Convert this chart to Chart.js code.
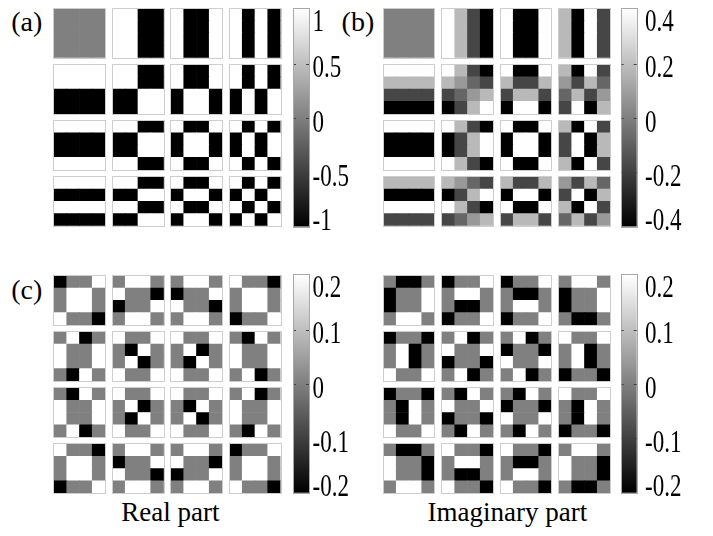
<!DOCTYPE html>
<html>
<head>
<meta charset="utf-8">
<script src="https://cdn.jsdelivr.net/npm/chart.js@4.4.1/dist/chart.umd.min.js"></script>
<style>
html,body{margin:0;padding:0;background:#fff;width:713px;height:536px;overflow:hidden;position:relative;}
canvas{position:absolute;display:block;}
.lbl{position:absolute;font-family:"Liberation Serif","Times New Roman",serif;color:#000;white-space:nowrap;}
</style>
</head>
<body>
<script>
// ================= DATA =================
const panelLabels = ['(a)', '(b)', '(c)'];
const bottomTitles = ['Real part', 'Imaginary part'];

const ticksA = [-1, -0.5, 0, 0.5, 1];
const ticksB = [-0.4, -0.2, 0, 0.2, 0.4];
const ticksC = [-0.2, -0.1, 0, 0.1, 0.2];
const ticksD = [-0.2, -0.1, 0, 0.1, 0.2];

// each panel: 16 basis images (4x4 grid, row-major); each image: 16 cell values (4x4, row-major)
const panelA = [
  [0,0,0,0, 0,0,0,0, 0,0,0,0, 0,0,0,0],
  [1,1,-1,-1, 1,1,-1,-1, 1,1,-1,-1, 1,1,-1,-1],
  [1,-1,-1,1, 1,-1,-1,1, 1,-1,-1,1, 1,-1,-1,1],
  [1,-1,1,-1, 1,-1,1,-1, 1,-1,1,-1, 1,-1,1,-1],
  [1,1,1,1, 1,1,1,1, -1,-1,-1,-1, -1,-1,-1,-1],
  [1,1,-1,-1, 1,1,-1,-1, -1,-1,1,1, -1,-1,1,1],
  [1,-1,-1,1, 1,-1,-1,1, -1,1,1,-1, -1,1,1,-1],
  [1,-1,1,-1, 1,-1,1,-1, -1,1,-1,1, -1,1,-1,1],
  [1,1,1,1, -1,-1,-1,-1, -1,-1,-1,-1, 1,1,1,1],
  [1,1,-1,-1, -1,-1,1,1, -1,-1,1,1, 1,1,-1,-1],
  [1,-1,-1,1, -1,1,1,-1, -1,1,1,-1, 1,-1,-1,1],
  [1,-1,1,-1, -1,1,-1,1, -1,1,-1,1, 1,-1,1,-1],
  [1,1,1,1, -1,-1,-1,-1, 1,1,1,1, -1,-1,-1,-1],
  [1,1,-1,-1, -1,-1,1,1, 1,1,-1,-1, -1,-1,1,1],
  [1,-1,-1,1, -1,1,1,-1, 1,-1,-1,1, -1,1,1,-1],
  [1,-1,1,-1, -1,1,-1,1, 1,-1,1,-1, -1,1,-1,1]
];

const panelB = [
  [0,0,0,0, 0,0,0,0, 0,0,0,0, 0,0,0,0],
  [0.4,0.18,-0.18,-0.4, 0.4,0.18,-0.18,-0.4, 0.4,0.18,-0.18,-0.4, 0.4,0.18,-0.18,-0.4],
  [0.4,-0.4,-0.4,0.4, 0.4,-0.4,-0.4,0.4, 0.4,-0.4,-0.4,0.4, 0.4,-0.4,-0.4,0.4],
  [0.18,-0.4,0.4,-0.18, 0.18,-0.4,0.4,-0.18, 0.18,-0.4,0.4,-0.18, 0.18,-0.4,0.4,-0.18],
  [0.4,0.4,0.4,0.4, 0.18,0.18,0.18,0.18, -0.18,-0.18,-0.18,-0.18, -0.4,-0.4,-0.4,-0.4],
  [0.4,0.18,-0.18,-0.4, 0.18,0.08,-0.08,-0.18, -0.18,-0.08,0.08,0.18, -0.4,-0.18,0.18,0.4],
  [0.4,-0.4,-0.4,0.4, 0.18,-0.18,-0.18,0.18, -0.18,0.18,0.18,-0.18, -0.4,0.4,0.4,-0.4],
  [0.18,-0.4,0.4,-0.18, 0.08,-0.18,0.18,-0.08, -0.08,0.18,-0.18,0.08, -0.18,0.4,-0.4,0.18],
  [0.4,0.4,0.4,0.4, -0.4,-0.4,-0.4,-0.4, -0.4,-0.4,-0.4,-0.4, 0.4,0.4,0.4,0.4],
  [0.4,0.18,-0.18,-0.4, -0.4,-0.18,0.18,0.4, -0.4,-0.18,0.18,0.4, 0.4,0.18,-0.18,-0.4],
  [0.4,-0.4,-0.4,0.4, -0.4,0.4,0.4,-0.4, -0.4,0.4,0.4,-0.4, 0.4,-0.4,-0.4,0.4],
  [0.18,-0.4,0.4,-0.18, -0.18,0.4,-0.4,0.18, -0.18,0.4,-0.4,0.18, 0.18,-0.4,0.4,-0.18],
  [0.18,0.18,0.18,0.18, -0.4,-0.4,-0.4,-0.4, 0.4,0.4,0.4,0.4, -0.18,-0.18,-0.18,-0.18],
  [0.18,0.08,-0.08,-0.18, -0.4,-0.18,0.18,0.4, 0.4,0.18,-0.18,-0.4, -0.18,-0.08,0.08,0.18],
  [0.18,-0.18,-0.18,0.18, -0.4,0.4,0.4,-0.4, 0.4,-0.4,-0.4,0.4, -0.18,0.18,0.18,-0.18],
  [0.08,-0.18,0.18,-0.08, -0.18,0.4,-0.4,0.18, 0.18,-0.4,0.4,-0.18, -0.08,0.18,-0.18,0.08]
];

const panelC = [
  [-0.2,0,0,0.2, 0,0.2,0.2,0, 0,0.2,0.2,0, 0.2,0,0,-0.2],
  [0,0.2,0.2,0, 0.2,0,0,-0.2, -0.2,0,0,0.2, 0,0.2,0.2,0],
  [0,0.2,0.2,0, -0.2,0,0,0.2, 0.2,0,0,-0.2, 0,0.2,0.2,0],
  [0.2,0,0,-0.2, 0,0.2,0.2,0, 0,0.2,0.2,0, -0.2,0,0,0.2],
  [0,0.2,-0.2,0, 0.2,0,0,0.2, 0.2,0,0,0.2, 0,-0.2,0.2,0],
  [0.2,0,0,0.2, 0,-0.2,0.2,0, 0,0.2,-0.2,0, 0.2,0,0,0.2],
  [0.2,0,0,0.2, 0,0.2,-0.2,0, 0,-0.2,0.2,0, 0.2,0,0,0.2],
  [0,-0.2,0.2,0, 0.2,0,0,0.2, 0.2,0,0,0.2, 0,0.2,-0.2,0],
  [0,-0.2,0.2,0, 0.2,0,0,0.2, 0.2,0,0,0.2, 0,0.2,-0.2,0],
  [0.2,0,0,0.2, 0,0.2,-0.2,0, 0,-0.2,0.2,0, 0.2,0,0,0.2],
  [0.2,0,0,0.2, 0,-0.2,0.2,0, 0,0.2,-0.2,0, 0.2,0,0,0.2],
  [0,0.2,-0.2,0, 0.2,0,0,0.2, 0.2,0,0,0.2, 0,-0.2,0.2,0],
  [0.2,0,0,-0.2, 0,0.2,0.2,0, 0,0.2,0.2,0, -0.2,0,0,0.2],
  [0,0.2,0.2,0, -0.2,0,0,0.2, 0.2,0,0,-0.2, 0,0.2,0.2,0],
  [0,0.2,0.2,0, 0.2,0,0,-0.2, -0.2,0,0,0.2, 0,0.2,0.2,0],
  [-0.2,0,0,0.2, 0,0.2,0.2,0, 0,0.2,0.2,0, 0.2,0,0,-0.2]
];

const panelD = [
  [0,-0.2,-0.2,0, -0.2,0,0,0.2, -0.2,0,0,0.2, 0,0.2,0.2,0],
  [-0.2,0,0,0.2, 0,0.2,0.2,0, 0,-0.2,-0.2,0, -0.2,0,0,0.2],
  [-0.2,0,0,0.2, 0,-0.2,-0.2,0, 0,0.2,0.2,0, -0.2,0,0,0.2],
  [0,0.2,0.2,0, -0.2,0,0,0.2, -0.2,0,0,0.2, 0,-0.2,-0.2,0],
  [-0.2,0,0,-0.2, 0,0.2,-0.2,0, 0,0.2,-0.2,0, 0.2,0,0,0.2],
  [0,0.2,-0.2,0, 0.2,0,0,0.2, -0.2,0,0,-0.2, 0,0.2,-0.2,0],
  [0,0.2,-0.2,0, -0.2,0,0,-0.2, 0.2,0,0,0.2, 0,0.2,-0.2,0],
  [0.2,0,0,0.2, 0,0.2,-0.2,0, 0,0.2,-0.2,0, -0.2,0,0,-0.2],
  [-0.2,0,0,-0.2, 0,-0.2,0.2,0, 0,-0.2,0.2,0, 0.2,0,0,0.2],
  [0,-0.2,0.2,0, 0.2,0,0,0.2, -0.2,0,0,-0.2, 0,-0.2,0.2,0],
  [0,-0.2,0.2,0, -0.2,0,0,-0.2, 0.2,0,0,0.2, 0,-0.2,0.2,0],
  [0.2,0,0,0.2, 0,-0.2,0.2,0, 0,-0.2,0.2,0, -0.2,0,0,-0.2],
  [0,-0.2,-0.2,0, 0.2,0,0,-0.2, 0.2,0,0,-0.2, 0,0.2,0.2,0],
  [0.2,0,0,-0.2, 0,0.2,0.2,0, 0,-0.2,-0.2,0, 0.2,0,0,-0.2],
  [0.2,0,0,-0.2, 0,-0.2,-0.2,0, 0,0.2,0.2,0, 0.2,0,0,-0.2],
  [0,0.2,0.2,0, 0.2,0,0,-0.2, 0.2,0,0,-0.2, 0,-0.2,-0.2,0]
];

// ================= LAYOUT / STYLE =================
const CELL_W = 12.75, CELL_H = 12.25, GAP_PX_X = 7.5, GAP_PX_Y = 7.1;
const GXU = GAP_PX_X / CELL_W, GYU = GAP_PX_Y / CELL_H;
const AREA_W = 16 * CELL_W + 3 * GAP_PX_X, AREA_H = 16 * CELL_H + 3 * GAP_PX_Y;
const FRAME_COLOR = '#cdcdcd';
const CB_W = 15;
const CB_FONT = 23, CB_SY = 1.38;
const FONT = '"Liberation Serif","Times New Roman",serif';

function grayOf(v, vmin, vmax) {
  let t = (v - vmin) / (vmax - vmin);
  t = Math.max(0, Math.min(1, t));
  const g = Math.round(t * 255);
  return 'rgb(' + g + ',' + g + ',' + g + ')';
}

function addCanvas(left, top, w, h) {
  const c = document.createElement('canvas');
  c.width = w; c.height = h;
  c.style.left = left + 'px'; c.style.top = top + 'px';
  c.style.width = w + 'px'; c.style.height = h + 'px';
  document.body.appendChild(c);
  return c;
}

const framePlugin = {
  id: 'frames',
  afterDatasetsDraw(chart) {
    const xs = chart.scales.x, ys = chart.scales.y, ctx = chart.ctx;
    ctx.save();
    ctx.strokeStyle = FRAME_COLOR;
    ctx.lineWidth = 1;
    for (let R = 0; R < 4; R++) {
      for (let C = 0; C < 4; C++) {
        const x0 = xs.getPixelForValue(C * (4 + GXU));
        const x1 = xs.getPixelForValue(C * (4 + GXU) + 4);
        const y0 = ys.getPixelForValue(R * (4 + GYU));
        const y1 = ys.getPixelForValue(R * (4 + GYU) + 4);
        ctx.strokeRect(Math.round(x0) - 0.5, Math.round(y0) - 0.5, Math.round(x1) - Math.round(x0) + 1, Math.round(y1) - Math.round(y0) + 1);
      }
    }
    ctx.restore();
  }
};

function makePanel(images, ticks, x0, y0) {
  const vmin = ticks[0], vmax = ticks[ticks.length - 1];
  const data = [], colors = [];
  images.forEach((img, k) => {
    const R = Math.floor(k / 4), C = k % 4;
    img.forEach((v, m) => {
      const i = Math.floor(m / 4), j = m % 4;
      const cx = C * (4 + GXU) + j + 0.5;
      const cy = R * (4 + GYU) + i;
      data.push({ x: cx, y: [cy, cy + 1] });
      colors.push(grayOf(v, vmin, vmax));
    });
  });
  const left = Math.floor(x0) - 2, top = Math.floor(y0) - 2;
  const w = Math.ceil(AREA_W) + 5, h = Math.ceil(AREA_H) + 5;
  const padL = x0 - left, padT = y0 - top;
  const cv = addCanvas(left, top, w, h);
  new Chart(cv, {
    type: 'bar',
    data: { datasets: [{ data, backgroundColor: colors, borderWidth: 0, categoryPercentage: 1, barPercentage: 1 }] },
    options: {
      responsive: false, animation: false, events: [],
      layout: { padding: { left: padL, top: padT, right: w - padL - AREA_W, bottom: h - padT - AREA_H } },
      plugins: { legend: { display: false }, tooltip: { enabled: false } },
      scales: {
        x: { type: 'linear', display: false, offset: false, min: 0, max: 16 + 3 * GXU, ticks: { stepSize: 8 } },
        y: { type: 'linear', display: false, offset: false, reverse: true, min: 0, max: 16 + 3 * GYU, ticks: { stepSize: 8 } }
      }
    },
    plugins: [framePlugin]
  });
}

function fmt(v) { return String(v); }

function makeColorbar(ticks, x0, y0, hgt, gap) {
  const vmin = ticks[0], vmax = ticks[ticks.length - 1];
  const left = Math.floor(x0) - 2, top = Math.floor(y0) - 4;
  const w = 90, h = Math.ceil(hgt) + 14;
  const padL = x0 - left, padT = y0 - top;
  const cv = addCanvas(left, top, w, h);
  const cbPlugin = {
    id: 'cbdeco',
    afterDraw(chart) {
      const a = chart.chartArea, ctx = chart.ctx, ys = chart.scales.y;
      ctx.save();
      ctx.strokeStyle = '#a8a8a8';
      ctx.lineWidth = 1;
      ctx.strokeRect(Math.round(a.left) - 0.5, Math.round(a.top) - 0.5, Math.round(a.right) - Math.round(a.left) + 1, Math.round(a.bottom) - Math.round(a.top) + 1);
      ctx.strokeStyle = '#404040';
      ys.ticks.forEach(t => {
        if (t.value === vmin || t.value === vmax) return;
        const py = Math.round(ys.getPixelForValue(t.value)) + 0.5;
        ctx.beginPath();
        ctx.moveTo(a.right - 3, py); ctx.lineTo(a.right, py);
        ctx.moveTo(a.left, py); ctx.lineTo(a.left + 2, py);
        ctx.stroke();
      });
      ctx.fillStyle = '#000';
      ctx.font = CB_FONT + 'px ' + FONT;
      ctx.textAlign = 'left';
      ctx.textBaseline = 'alphabetic';
      const dh = 0.676 * CB_FONT * CB_SY;
      ys.ticks.forEach(t => {
        const py = ys.getPixelForValue(t.value);
        let base = py + dh / 2 + 3;
        base = Math.max(base, a.top + dh);
        base = Math.min(base, a.bottom + 3);
        ctx.save();
        ctx.translate(a.right + gap, base);
        ctx.scale(1, CB_SY);
        ctx.fillText(fmt(t.value), 0, 0);
        ctx.restore();
      });
      ctx.restore();
    }
  };
  new Chart(cv, {
    type: 'bar',
    data: {
      labels: ['cb'],
      datasets: [{
        data: [[vmin, vmax]], borderWidth: 0, categoryPercentage: 1, barPercentage: 1,
        backgroundColor: (c) => {
          const a = c.chart.chartArea;
          if (!a) return '#808080';
          const g = c.chart.ctx.createLinearGradient(0, a.bottom, 0, a.top);
          g.addColorStop(0, '#000000');
          g.addColorStop(1, '#ffffff');
          return g;
        }
      }]
    },
    options: {
      responsive: false, animation: false, events: [],
      layout: { padding: { left: padL, top: padT, right: w - padL - CB_W, bottom: h - padT - hgt } },
      plugins: { legend: { display: false }, tooltip: { enabled: false } },
      scales: {
        x: { display: false },
        y: { display: false, min: vmin, max: vmax,
             afterBuildTicks: (s) => { s.ticks = ticks.map(v => ({ value: v })); } }
      }
    },
    plugins: [cbPlugin]
  });
}

function addLabel(text, left, baseline, size) {
  const d = document.createElement('div');
  d.className = 'lbl';
  d.textContent = text;
  d.style.fontSize = size + 'px';
  d.style.lineHeight = size + 'px';
  d.style.left = left + 'px';
  d.style.top = (baseline - 0.8375 * size) + 'px';
  document.body.appendChild(d);
}

// ================= BUILD =================
addLabel(panelLabels[0], 11.3, 31.5, 28);
addLabel(panelLabels[1], 341.6, 31.5, 28);
addLabel(panelLabels[2], 11.3, 299, 28);
addLabel(bottomTitles[0], 121.2, 521.7, 27);
addLabel(bottomTitles[1], 427.5, 521.7, 27);

makePanel(panelA, ticksA, 54, 8.5);
makePanel(panelB, ticksB, 383.5, 8.5);
makePanel(panelC, ticksC, 54, 275.8);
makePanel(panelD, ticksD, 383.5, 275.8);

makeColorbar(ticksA, 294, 9.2, 217.4, 3.5);
makeColorbar(ticksB, 621.7, 9.2, 217.4, 8.3);
makeColorbar(ticksC, 294, 275.2, 217.5, 3.5);
makeColorbar(ticksD, 621.7, 275.2, 217.5, 8.3);
</script>
</body>
</html>
